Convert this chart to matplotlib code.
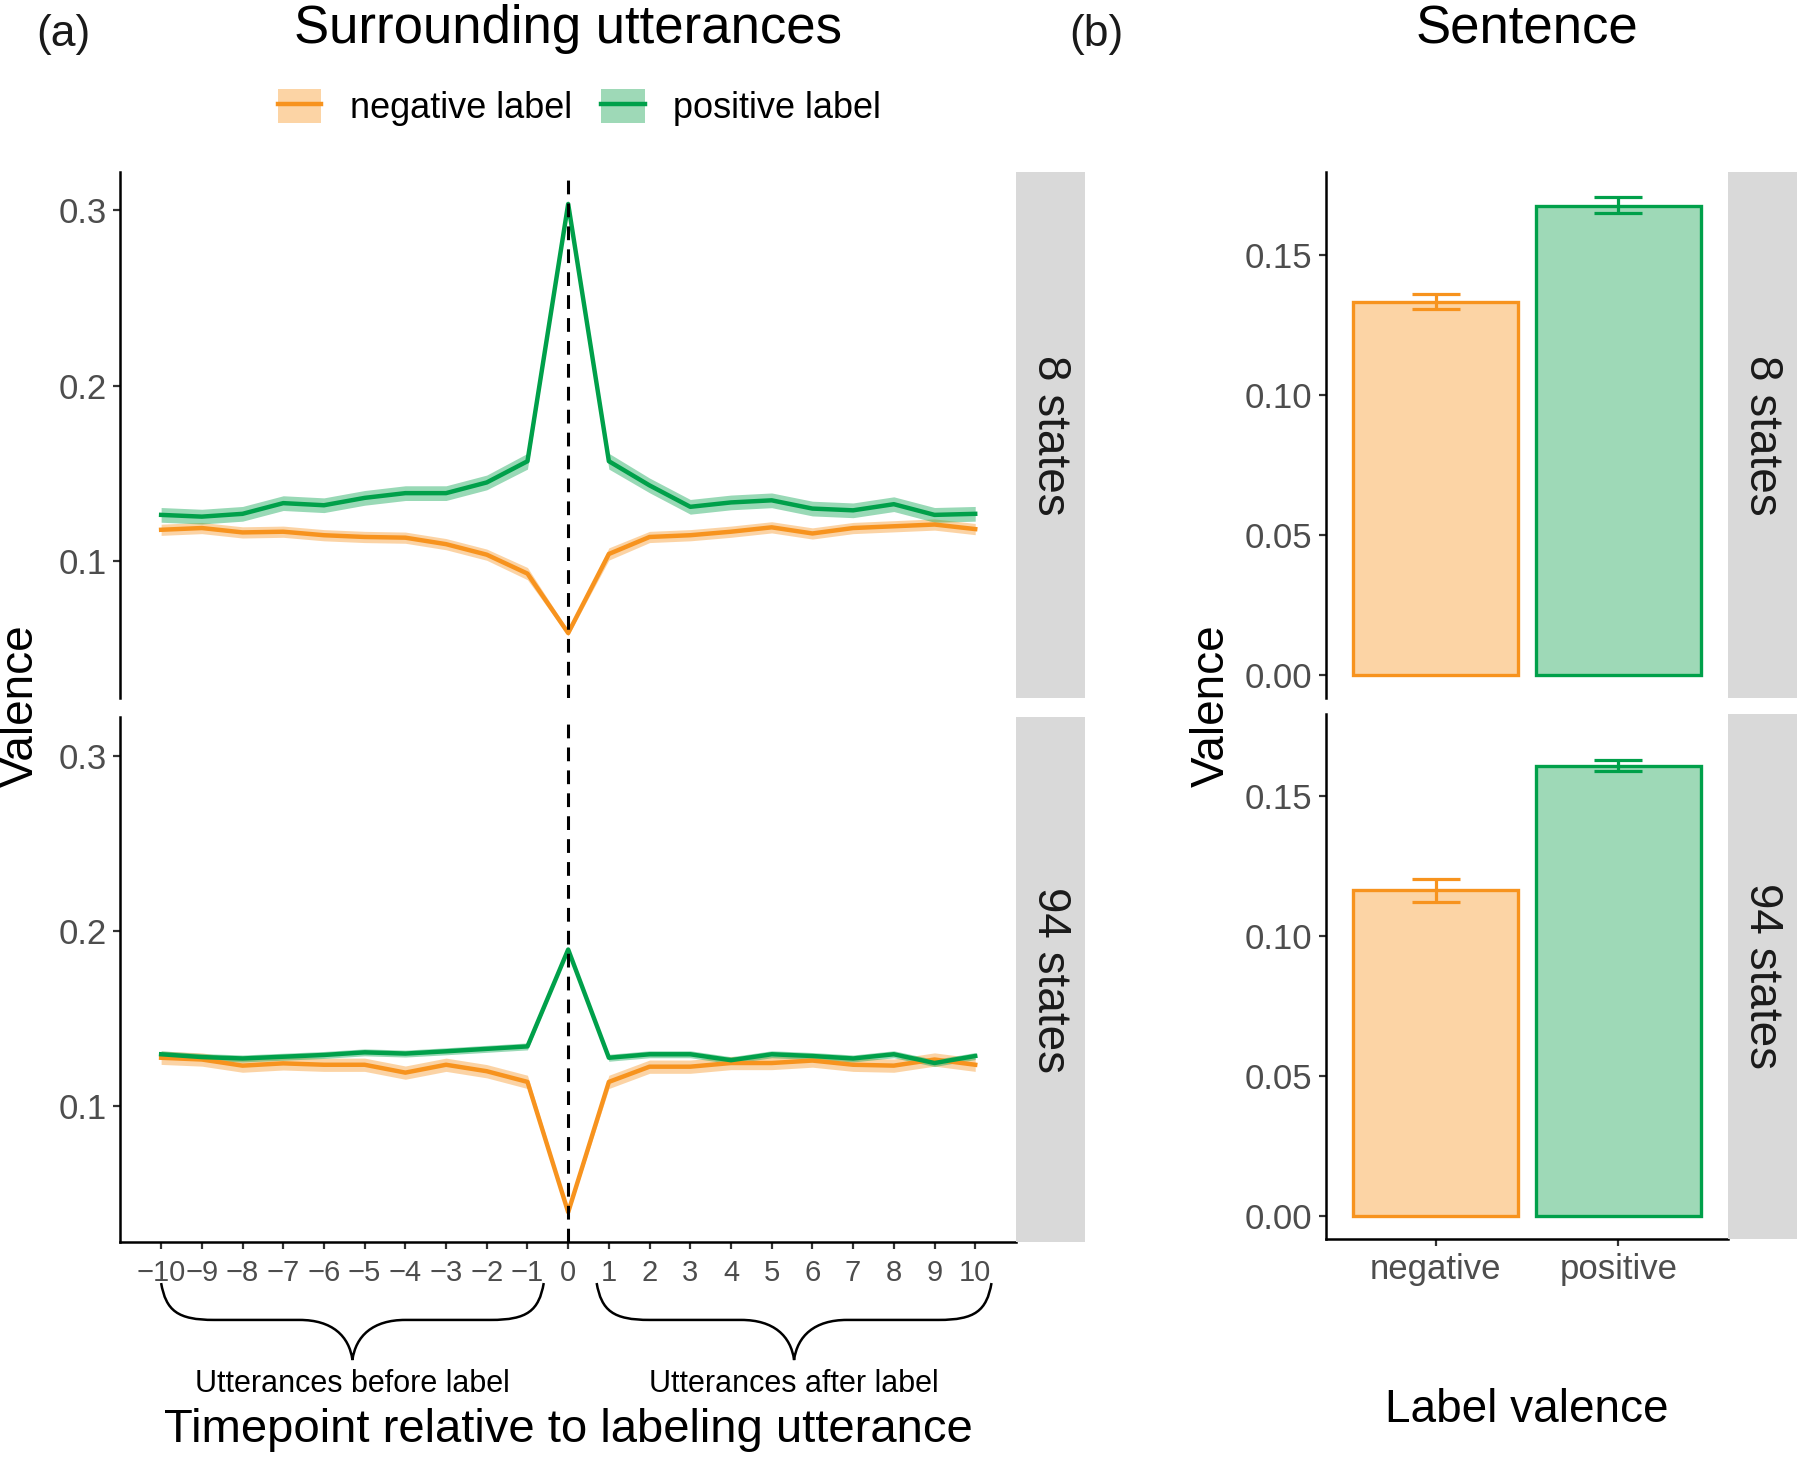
import matplotlib.pyplot as plt
import matplotlib.transforms as mtransforms
from matplotlib import font_manager
from matplotlib.patches import Patch, PathPatch
from matplotlib.lines import Line2D
from matplotlib.path import Path

plt.rcParams['font.family'] = ['Liberation Sans', 'DejaVu Sans']

# condensed font for the x tick labels and brace captions, if there is one
installed = {f.name for f in font_manager.fontManager.ttflist}
if 'Liberation Sans Narrow' in installed:
    NARROW = ['Liberation Sans Narrow', 'DejaVu Sans']
    XTICK_SIZE, BRACE_SIZE = 25, 27
else:
    NARROW = ['Liberation Sans', 'DejaVu Sans']
    XTICK_SIZE, BRACE_SIZE = 21, 22

# ---- data ----
timepoints = list(range(-10, 11))

# 8 states
pos8 = [0.1264, 0.1254, 0.1270, 0.1331, 0.1319, 0.1361, 0.1388, 0.1388, 0.1449, 0.1570, 0.3037,
        0.1570, 0.1432, 0.1310, 0.1335, 0.1347, 0.1300, 0.1290, 0.1325, 0.1264, 0.1270]
pos8_se = [0.0042, 0.0042, 0.0042, 0.0042, 0.0042, 0.0042, 0.0042, 0.0042, 0.0042, 0.0045, 0.0020,
           0.0045, 0.0042, 0.0042, 0.0042, 0.0042, 0.0042, 0.0042, 0.0042, 0.0042, 0.0042]
neg8 = [0.1179, 0.1189, 0.1164, 0.1168, 0.1148, 0.1138, 0.1134, 0.1097, 0.1037, 0.0929, 0.0590,
        0.1041, 0.1138, 0.1148, 0.1168, 0.1193, 0.1158, 0.1189, 0.1199, 0.1209, 0.1183]
neg8_se = [0.0032, 0.0032, 0.0032, 0.0032, 0.0032, 0.0032, 0.0032, 0.0032, 0.0032, 0.0035, 0.0015,
           0.0035, 0.0032, 0.0032, 0.0032, 0.0032, 0.0032, 0.0032, 0.0032, 0.0032, 0.0032]

# 94 states
pos94 = [0.1294, 0.1278, 0.1270, 0.1280, 0.1290, 0.1305, 0.1298, 0.1311, 0.1325, 0.1339, 0.1893,
         0.1274, 0.1294, 0.1294, 0.1260, 0.1294, 0.1284, 0.1270, 0.1294, 0.1244, 0.1284]
pos94_se = [0.0020] * 10 + [0.0010] + [0.0020] * 10
neg94 = [0.1274, 0.1264, 0.1229, 0.1242, 0.1234, 0.1234, 0.1189, 0.1234, 0.1197, 0.1136, 0.0391,
         0.1136, 0.1223, 0.1223, 0.1244, 0.1244, 0.1258, 0.1234, 0.1229, 0.1264, 0.1234]
neg94_se = [0.0038] * 10 + [0.0015] + [0.0038] * 10

# sentence bars
bar_labels = ['negative', 'positive']
bar8 = [0.1332, 0.1672]
bar8_lo = [0.1307, 0.1648]
bar8_hi = [0.1360, 0.1705]
bar94 = [0.1164, 0.1610]
bar94_lo = [0.1123, 0.1590]
bar94_hi = [0.1205, 0.1631]

ORANGE = '#F7931E'
GREEN = '#00A04A'
ORANGE_FILL = '#FCD4A5'
GREEN_FILL = '#9ED9B7'
STRIP = '#D9D9D9'
TICKC = '#4D4D4D'

fig = plt.figure(figsize=(18, 14.58), dpi=100)


def style_axis(ax, bottom):
    ax.spines['top'].set_visible(False)
    ax.spines['right'].set_visible(False)
    ax.spines['left'].set_linewidth(1.8)
    ax.spines['bottom'].set_linewidth(1.8)
    ax.spines['bottom'].set_visible(bottom)
    ax.tick_params(axis='both', length=5, width=1.6, color='#333333', labelcolor=TICKC,
                   labelsize=25, pad=5)
    if not bottom:
        ax.tick_params(axis='x', bottom=False, labelbottom=False)


def strip(rect, text):
    s = fig.add_axes(rect)
    s.set_facecolor(STRIP)
    s.set_xticks([])
    s.set_yticks([])
    for sp in s.spines.values():
        sp.set_visible(False)
    s.text(0.5, 0.5, text, rotation=-90, ha='center', va='center', fontsize=33, color='#1A1A1A',
           transform=s.transAxes)


# ---- panel (a) ----
line_panels = [
    ([0.0669, 0.5213, 0.4975, 0.3608], pos8, pos8_se, neg8, neg8_se, '8 states', False),
    ([0.0669, 0.1481, 0.4975, 0.3598], pos94, pos94_se, neg94, neg94_se, '94 states', True),
]
axes_a = []
for rect, pos, pse, neg, nse, name, bottom in line_panels:
    ax = fig.add_axes(rect)
    for vals, se, col in [(neg, nse, ORANGE), (pos, pse, GREEN)]:
        lo = [v - s for v, s in zip(vals, se)]
        hi = [v + s for v, s in zip(vals, se)]
        ax.fill_between(timepoints, lo, hi, color=col, alpha=0.4, linewidth=0)
        ax.plot(timepoints, vals, color=col, lw=3.2)
    ax.axvline(0, color='black', lw=2.2, ls=(0, (4.5, 3)))
    ax.set_xlim(-11, 11)
    ax.set_ylim(0.022, 0.322)
    ax.set_yticks([0.1, 0.2, 0.3])
    ax.set_yticklabels(['0.1', '0.2', '0.3'])
    style_axis(ax, bottom)
    if bottom:
        ax.set_xticks(timepoints)
        ax.set_xticklabels([str(t).replace('-', '\u2212') for t in timepoints],
                           family=NARROW, fontsize=XTICK_SIZE)
        ax.tick_params(axis='x', pad=7)
    strip([rect[0] + rect[2], rect[1], 0.0383, rect[3]], name)
    axes_a.append(ax)

# braces under the x axis
ax_b = axes_a[1]
trans = mtransforms.blended_transform_factory(ax_b.transData, fig.transFigure)
y_top, y_mid, y_bot = 0.120, 0.0947, 0.0672
braces = [(-10.0, -0.6, -5.3, 'Utterances before label'),
          (0.7, 10.4, 5.55, 'Utterances after label')]
for x0, x1, xc, label in braces:
    verts = [(x0, y_top),
             (x0 + 0.12, y_mid + 0.25 * (y_top - y_mid)), (x0 + 0.4, y_mid), (x0 + 1.3, y_mid),
             (xc - 1.3, y_mid),
             (xc - 0.5, y_mid), (xc - 0.08, y_mid - 0.4 * (y_mid - y_bot)), (xc, y_bot),
             (xc + 0.08, y_mid - 0.4 * (y_mid - y_bot)), (xc + 0.5, y_mid), (xc + 1.3, y_mid),
             (x1 - 1.3, y_mid),
             (x1 - 0.4, y_mid), (x1 - 0.12, y_mid + 0.25 * (y_top - y_mid)), (x1, y_top)]
    codes = [Path.MOVETO, Path.CURVE4, Path.CURVE4, Path.CURVE4, Path.LINETO,
             Path.CURVE4, Path.CURVE4, Path.CURVE4, Path.CURVE4, Path.CURVE4, Path.CURVE4,
             Path.LINETO, Path.CURVE4, Path.CURVE4, Path.CURVE4]
    pp = PathPatch(Path(verts, codes), fill=False, lw=1.8, edgecolor='black',
                   transform=trans, clip_on=False)
    fig.add_artist(pp)
    fig.text(xc, 0.0453, label, transform=trans, ha='center', va='baseline',
             family=NARROW, fontsize=BRACE_SIZE)

# ---- panel (b) ----
bar_panels = [
    ([0.7367, 0.5213, 0.2233, 0.3608], bar8, bar8_lo, bar8_hi, '8 states', False),
    ([0.7367, 0.1502, 0.2233, 0.3601], bar94, bar94_lo, bar94_hi, '94 states', True),
]
xpos = [1, 2]
for rect, vals, lo, hi, name, bottom in bar_panels:
    ax = fig.add_axes(rect)
    ax.bar(xpos, vals, width=0.9, color=[ORANGE_FILL, GREEN_FILL],
           edgecolor=[ORANGE, GREEN], linewidth=2.4)
    for x, v, l, h, col in zip(xpos, vals, lo, hi, [ORANGE, GREEN]):
        ax.errorbar([x], [v], yerr=[[v - l], [h - v]], fmt='none', ecolor=col,
                    elinewidth=2.3, capsize=17, capthick=2.3)
    ax.set_xlim(0.4, 2.6)
    ax.set_ylim(-0.0082, 0.1795)
    ax.set_yticks([0.0, 0.05, 0.10, 0.15])
    ax.set_yticklabels(['0.00', '0.05', '0.10', '0.15'])
    style_axis(ax, bottom)
    if bottom:
        ax.set_xticks(xpos)
        ax.set_xticklabels(bar_labels, fontsize=25)
        ax.tick_params(axis='x', pad=5)
    strip([rect[0] + rect[2], rect[1], 0.0383, rect[3]], name)

# ---- titles, labels, legend ----
fig.text(0.035, 0.976, '(a)', ha='center', va='center', fontsize=32, color='#1A1A1A')
fig.text(0.609, 0.976, '(b)', ha='center', va='center', fontsize=32, color='#1A1A1A')
fig.text(0.3157, 0.9705, 'Surrounding utterances', ha='center', va='baseline', fontsize=38)
fig.text(0.8483, 0.9705, 'Sentence', ha='center', va='baseline', fontsize=38)
fig.text(0.0115, 0.516, 'Valence', rotation=90, ha='center', va='center', fontsize=33)
fig.text(0.673, 0.516, 'Valence', rotation=90, ha='center', va='center', fontsize=33)
fig.text(0.3157, 0.011, 'Timepoint relative to labeling utterance', ha='center', va='baseline',
         fontsize=34)
fig.text(0.8483, 0.025, 'Label valence', ha='center', va='baseline', fontsize=33)

handles = [(Patch(facecolor=ORANGE_FILL, edgecolor='none'), Line2D([], [], color=ORANGE, lw=3.2)),
           (Patch(facecolor=GREEN_FILL, edgecolor='none'), Line2D([], [], color=GREEN, lw=3.2))]
fig.legend(handles, ['negative label', 'positive label'], loc='center',
           bbox_to_anchor=(0.322, 0.926), ncol=2, frameon=False, fontsize=26,
           handlelength=1.2, handleheight=1.05, columnspacing=0.8, handletextpad=0.8)

fig.savefig('out.png', dpi=100)
